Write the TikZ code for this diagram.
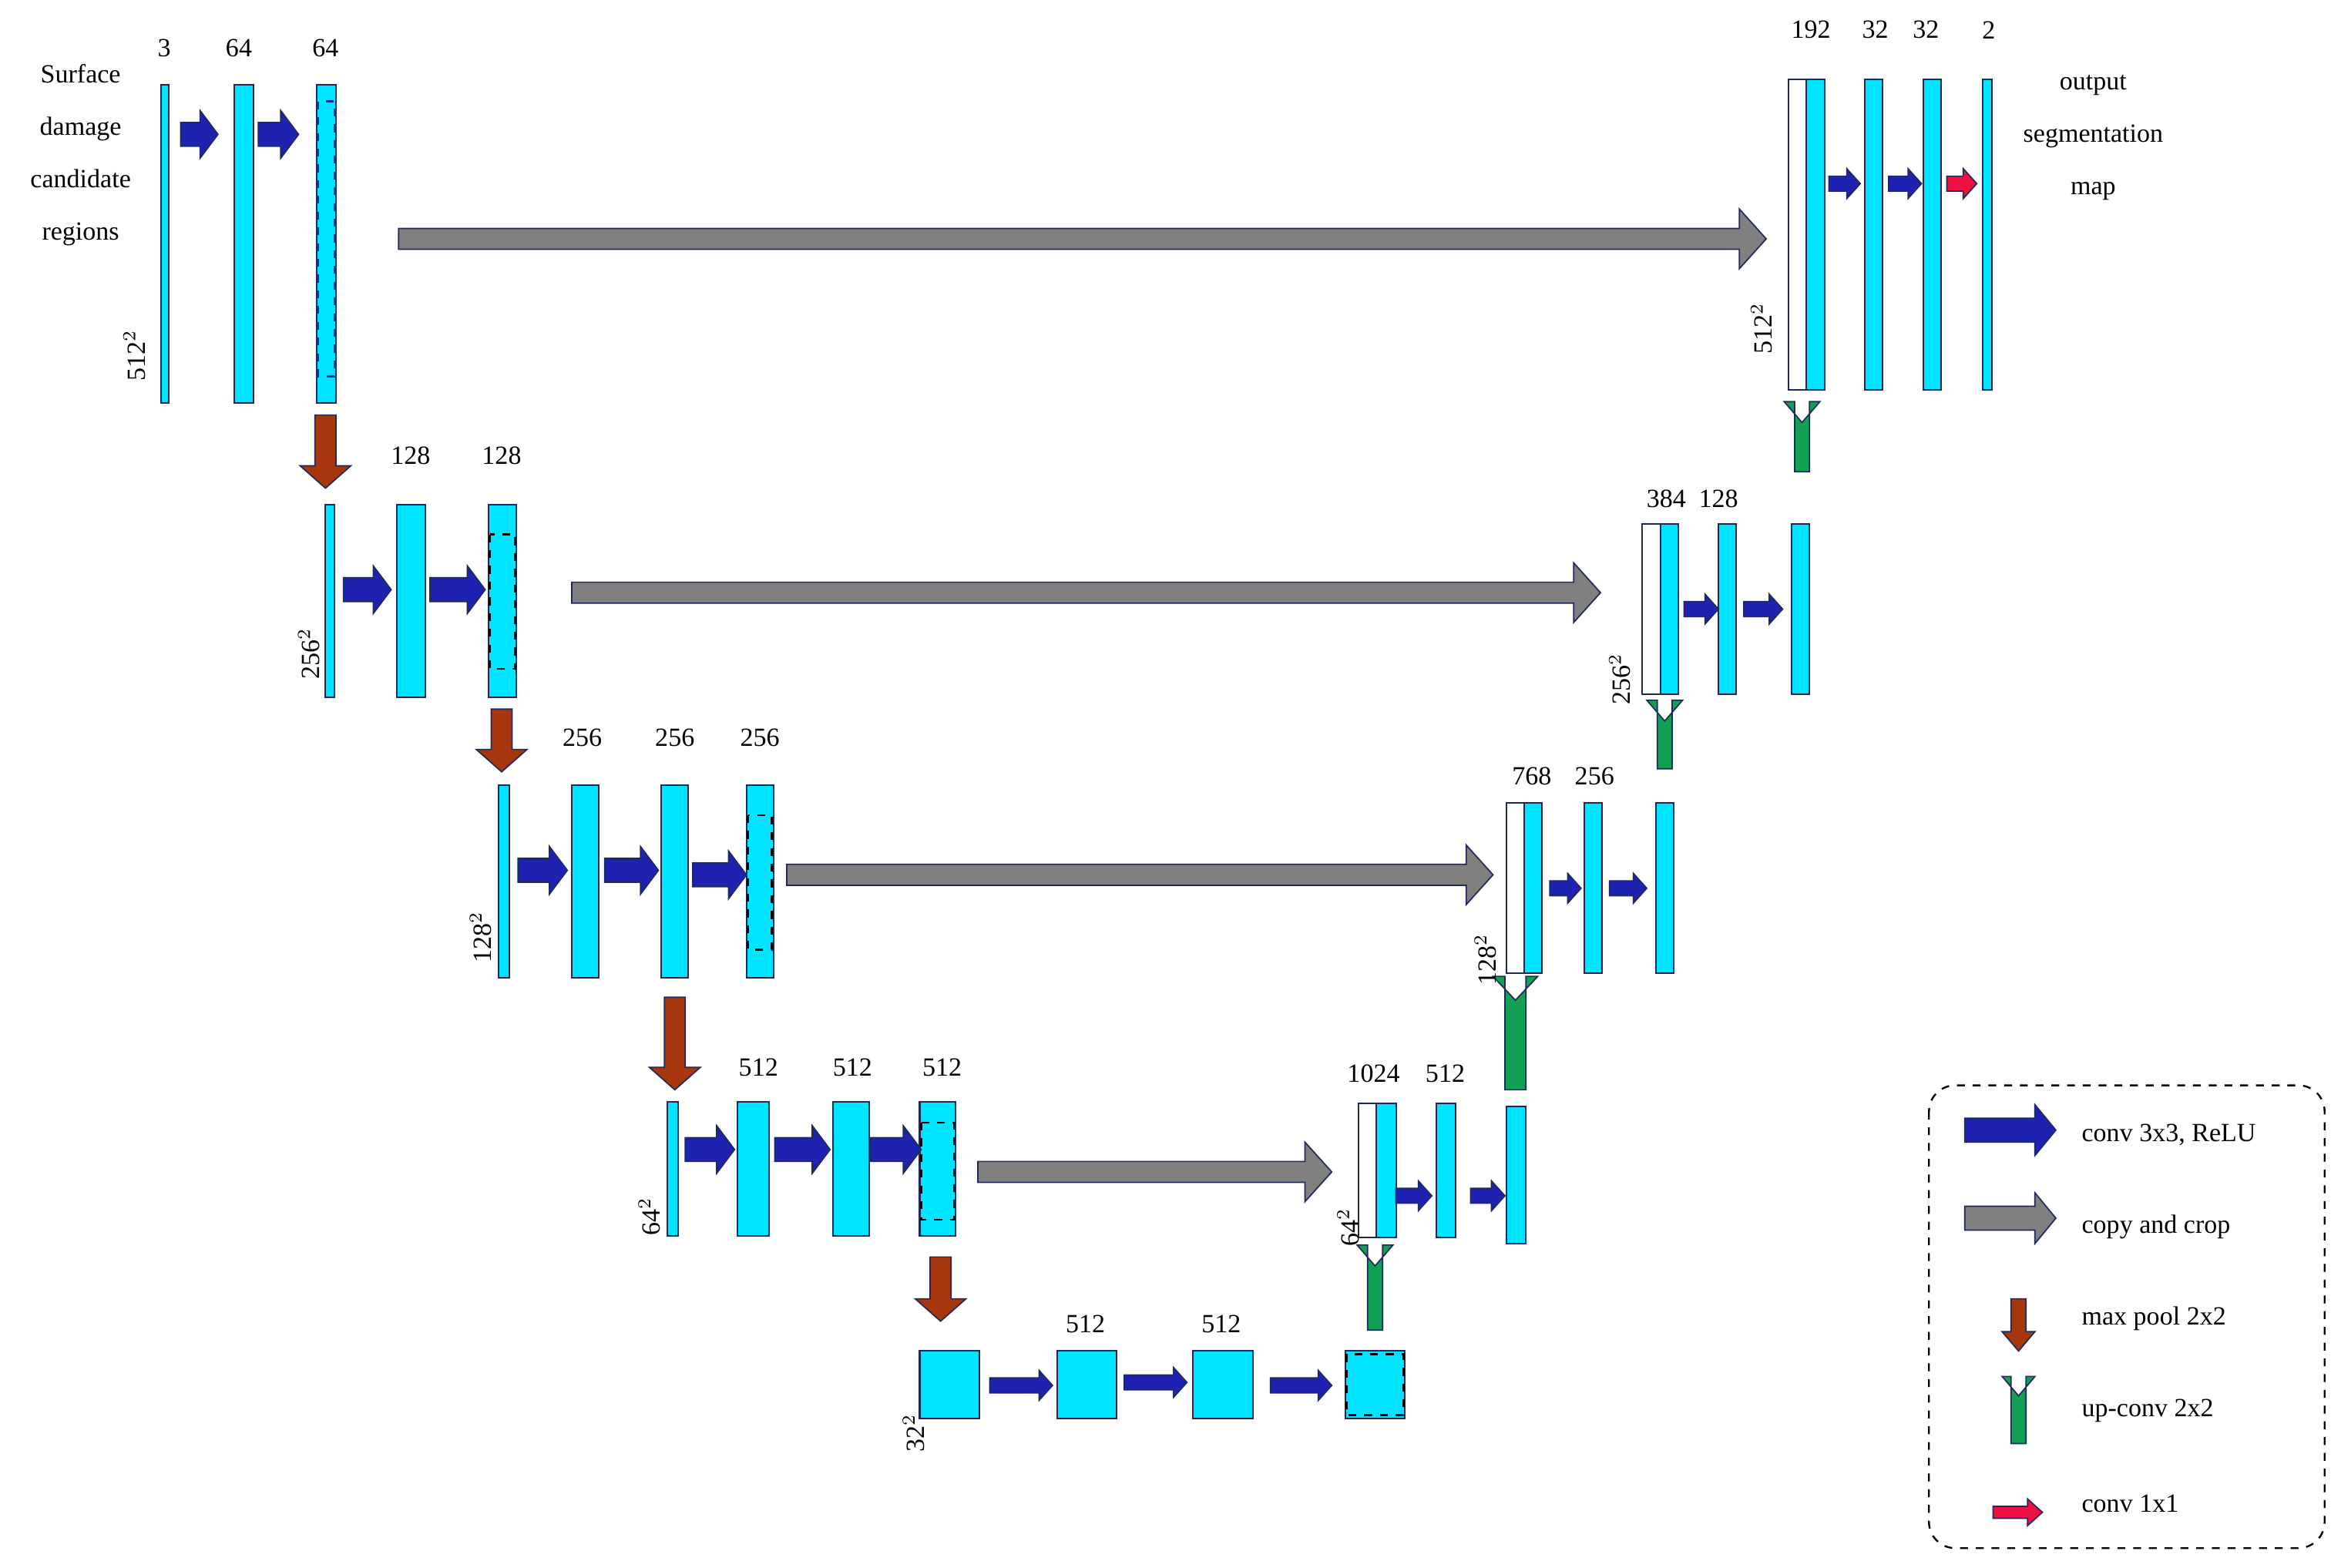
\documentclass[tikz,border=0pt]{standalone}
\usepackage{fontspec}
\setmainfont{Liberation Serif}
\begin{document}
\definecolor{cy}{HTML}{00E5FF}
\definecolor{bd}{HTML}{1F2A5A}
\definecolor{cb}{HTML}{1E22B0}
\definecolor{cg}{HTML}{808080}
\definecolor{cm}{HTML}{A8360C}
\definecolor{cu}{HTML}{12A055}
\definecolor{cr}{HTML}{EE1040}
\begin{tikzpicture}[x=0.02cm,y=-0.02cm,
  box/.style={fill=cy,draw=bd,line width=0.6pt},
  wbox/.style={fill=white,draw=bd,line width=0.6pt},
  lab/.style={font=\fontsize{10}{12}\selectfont,inner sep=0pt},
  dim/.style={font=\fontsize{10}{12}\selectfont,inner sep=0pt,rotate=90},
  ar/.style={draw=bd,line width=0.5pt,line join=miter}]
\useasboundingbox (0,0) rectangle (1568,1050);
% horizontal arrow: x1 x2 y shafthalf headhalf headlen colour
\newcommand\HA[7]{\filldraw[ar,fill=#7] ({#1},{#3-#4}) -- ({#2-#6},{#3-#4}) -- ({#2-#6},{#3-#5}) -- ({#2},{#3}) -- ({#2-#6},{#3+#5}) -- ({#2-#6},{#3+#4}) -- ({#1},{#3+#4}) -- cycle;}
% vertical arrow: x y1 y2 (head at y2)
\newcommand\VA[7]{\filldraw[ar,fill=#7] ({#1-#4},{#2}) -- ({#1-#4},{#3-(#6)}) -- ({#1-#5},{#3-(#6)}) -- ({#1},{#3}) -- ({#1+#5},{#3-(#6)}) -- ({#1+#4},{#3-(#6)}) -- ({#1+#4},{#2}) -- cycle;}
\newcommand\Bx[5][box]{\path[#1] (#2,#3) rectangle (#4,#5);}
% text
\node[lab,align=center] (in) at (54,104) {Surface\\[8pt]damage\\[8pt]candidate\\[8pt]regions};
\node[lab,align=center] (out) at (1402,92) {output\\[8pt]segmentation\\[8pt]map};
% level 1
\Bx{108}{57}{113}{270}\Bx{157}{57}{170}{270}\Bx{212}{57}{225}{270}
\draw[cb,dashed,line width=0.8pt] (213,68) rectangle (224,252);
\node[lab] at (110,32) {3};\node[lab] at (160,32) {64};\node[lab] at (218,32) {64};
\node[dim] at (90,238) {512$^2$};
\HA{121}{146}{90}{8}{16}{12}{cb}\HA{173}{200}{90}{8}{16}{12}{cb}
\HA{267}{1183}{160}{7}{20}{18}{cg}
\VA{218}{278}{327}{7}{17}{15}{cm}
% level 2
\Bx{218}{338}{224}{467}\Bx{266}{338}{285}{467}\Bx{327}{338}{346}{467}
\draw[black,dashed,line width=0.8pt] (328,358) rectangle (345,448);
\node[lab] at (275,305) {128};\node[lab] at (336,305) {128};
\node[dim] at (207,438) {256$^2$};
\HA{230}{262}{395}{8}{16}{12}{cb}\HA{288}{325}{395}{8}{16}{12}{cb}
\HA{383}{1072}{397}{7}{20}{18}{cg}
\VA{336}{475}{517}{7}{17}{15}{cm}
% level 3
\Bx{334}{526}{341}{655}\Bx{383}{526}{401}{655}\Bx{443}{526}{461}{655}\Bx{500}{526}{518}{655}
\draw[black,dashed,line width=0.8pt] (501,546) rectangle (517,636);
\node[lab] at (390,494) {256};\node[lab] at (452,494) {256};\node[lab] at (509,494) {256};
\node[dim] at (322,628) {128$^2$};
\HA{347}{380}{583}{8}{16}{12}{cb}\HA{405}{441}{583}{8}{16}{12}{cb}\HA{464}{500}{586}{8}{16}{12}{cb}
\HA{527}{1000}{586}{7}{20}{18}{cg}
\VA{452}{668}{730}{7}{17}{15}{cm}
% level 4
\Bx{447}{738}{454}{828}\Bx{494}{738}{515}{828}\Bx{558}{738}{582}{828}\Bx{616}{738}{640}{828}
\draw[black,dashed,line width=0.8pt] (617,752) rectangle (639,817);
\node[lab] at (508,715) {512};\node[lab] at (571,715) {512};\node[lab] at (631,715) {512};
\node[dim] at (435,815) {64$^2$};
\HA{459}{492}{770}{8}{16}{12}{cb}\HA{519}{556}{770}{8}{16}{12}{cb}\HA{583}{617}{770}{8}{16}{12}{cb}
\HA{655}{892}{785}{7}{20}{18}{cg}
\VA{630}{842}{885}{7}{17}{15}{cm}
% level 5
\Bx{616}{905}{656}{950}\Bx{708}{905}{748}{950}\Bx{799}{905}{839}{950}\Bx{901}{905}{941}{950}
\draw[black,dashed,line width=0.8pt] (902,907) rectangle (940,948);
\node[lab] at (727,887) {512};\node[lab] at (818,887) {512};
\node[dim] at (612,960) {32$^2$};
\HA{663}{705}{928}{5}{10}{9}{cb}\HA{753}{795}{926}{5}{10}{9}{cb}\HA{851}{892}{928}{5}{10}{9}{cb}
\VA{921}{891}{848}{5}{12}{14}{cu}
% up level 4
\Bx[wbox]{910}{739}{922}{829}\Bx{922}{739}{935}{829}\Bx{962}{739}{975}{829}\Bx{1009}{741}{1022}{833}
\node[lab] at (920,719) {1024};\node[lab] at (968,719) {512};
\node[dim] at (903,822) {64$^2$};
\HA{935}{959}{801}{5}{10}{9}{cb}\HA{985}{1008}{801}{5}{10}{9}{cb}
\VA{1015}{730}{670}{7}{15}{16}{cu}
% up level 3
\Bx[wbox]{1009}{538}{1021}{652}\Bx{1021}{538}{1033}{652}\Bx{1061}{538}{1073}{652}\Bx{1109}{538}{1121}{652}
\node[lab] at (1026,520) {768};\node[lab] at (1068,520) {256};
\node[dim] at (995,643) {128$^2$};
\HA{1038}{1059}{595}{5}{10}{9}{cb}\HA{1078}{1103}{595}{5}{10}{9}{cb}
\VA{1115}{515}{483}{5}{12}{14}{cu}
% up level 2
\Bx[wbox]{1100}{351}{1112}{465}\Bx{1112}{351}{1124}{465}\Bx{1151}{351}{1163}{465}\Bx{1200}{351}{1212}{465}
\node[lab] at (1116,334) {384};\node[lab] at (1151,334) {128};
\node[dim] at (1085,455) {256$^2$};
\HA{1128}{1151}{408}{5}{10}{9}{cb}\HA{1168}{1194}{408}{5}{10}{9}{cb}
\VA{1207}{316}{283}{5}{12}{14}{cu}
% up level 1
\Bx[wbox]{1198}{53}{1210}{261}\Bx{1210}{53}{1222}{261}\Bx{1249}{53}{1261}{261}\Bx{1288}{53}{1300}{261}\Bx{1328}{53}{1334}{261}
\node[lab] at (1213,20) {192};\node[lab] at (1256,20) {32};\node[lab] at (1290,20) {32};\node[lab] at (1332,20) {2};
\node[dim] at (1180,220) {512$^2$};
\HA{1225}{1246}{123}{5}{10}{9}{cb}\HA{1265}{1287}{123}{5}{10}{9}{cb}\HA{1304}{1324}{123}{5}{10}{9}{cr}
% legend
\draw[black,dashed,rounded corners=10pt,line width=0.7pt] (1292,727) rectangle (1557,1037);
\HA{1316}{1377}{757}{8}{17}{14}{cb}
\HA{1316}{1377}{816}{8}{17}{14}{cg}
\VA{1352}{870}{905}{5}{11}{13}{cm}
\VA{1352}{967}{935}{5}{11}{13}{cu}
\HA{1335}{1368}{1013}{4}{9}{10}{cr}
\node[lab,anchor=west] at (1394,760) {conv 3x3, ReLU};
\node[lab,anchor=west] at (1394,822) {copy and crop};
\node[lab,anchor=west] at (1394,883) {max pool 2x2};
\node[lab,anchor=west] at (1394,945) {up-conv 2x2};
\node[lab,anchor=west] at (1394,1007) {conv 1x1};
\end{tikzpicture}
\end{document}
